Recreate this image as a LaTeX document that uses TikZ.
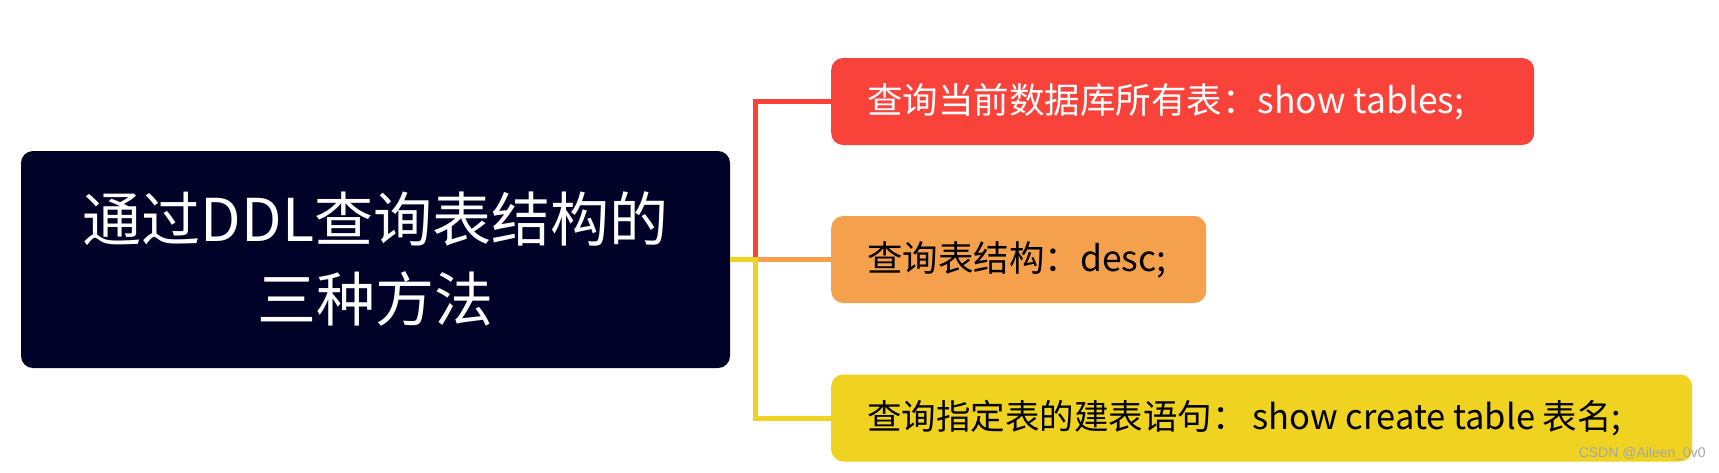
\documentclass[tikz,border=0pt]{standalone}
\usepackage{fontspec}
\setmainfont{Noto Sans CJK SC}
\newfontfamily\wmfont{Liberation Sans}
\definecolor{navy}{RGB}{0,2,40}
\definecolor{cred}{RGB}{249,66,58}
\definecolor{corange}{RGB}{245,160,77}
\definecolor{cyellow}{RGB}{240,211,32}
\newcommand{\boxtext}[2]{\makebox[#1][l]{#2}}
\tikzset{
  mainbox/.style={fill=navy, rounded corners=12pt, minimum width=709pt, minimum height=217pt,
    text=white, font=\fontsize{59}{80}\selectfont, align=center, inner sep=0pt},
  branchbox/.style={anchor=west, rounded corners=12pt, minimum height=87pt, inner xsep=36pt,
    inner ysep=0pt, font=\fontsize{35.5}{40}\selectfont},
  conn/.style={line width=5pt}
}
\begin{document}
\begin{tikzpicture}[x=1pt,y=-1pt]
\useasboundingbox (0,0) rectangle (1719,472);
\node[mainbox] (m) at (375.5,259.5) {通过DDL查询表结构的\\三种方法};
\node[branchbox, fill=cred, text=white] (r) at (831,101.5) {\boxtext{631pt}{查询当前数据库所有表：show tables;}};
\node[branchbox, fill=corange, text=black] (o) at (831,259.5) {\boxtext{303pt}{查询表结构：desc;}};
\node[branchbox, fill=cyellow, text=black, font=\fontsize{34.5}{40}\selectfont] (y) at (831,418) {\boxtext{789pt}{查询指定表的建表语句：\hspace{6pt}show create table 表名;}};
\coordinate (j) at (755,259.5);
\draw[conn, cred] (j) |- (r.west);
\draw[conn, corange] (m.east) -- (o.west);
\draw[conn, cyellow] (m.east) -- (j) |- (y.west);
\node[anchor=east, text=gray!70, font=\wmfont\fontsize{14}{16}\selectfont, inner sep=0pt] (wm) at (1706,454) {CSDN @Aileen\_0v0};
\end{tikzpicture}
\end{document}
